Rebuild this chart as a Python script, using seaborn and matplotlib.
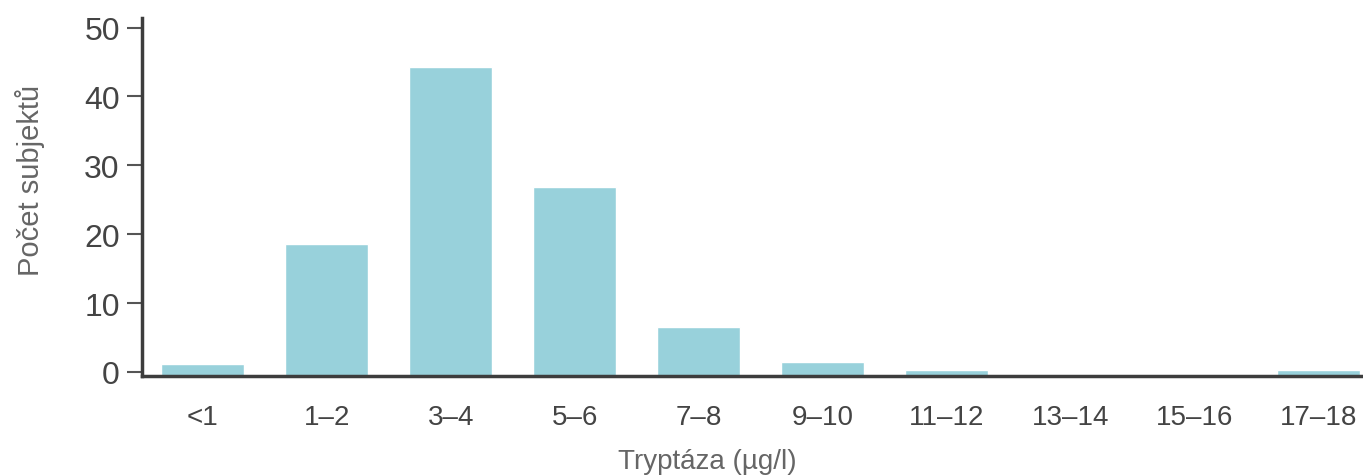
import matplotlib
matplotlib.use("Agg")
import matplotlib.pyplot as plt
import seaborn as sns
import pandas as pd

sns.set_theme(style="white")
plt.rcParams["font.family"] = ["Liberation Sans", "DejaVu Sans"]

# data
categories = ["<1", "1–2", "3–4", "5–6", "7–8", "9–10", "11–12", "13–14", "15–16", "17–18"]
counts = [1.2, 18.6, 44.3, 26.9, 6.5, 1.5, 0.3, 0.0, 0.0, 0.3]
y_ticks = [0, 10, 20, 30, 40, 50]

df = pd.DataFrame({"kat": categories, "pocet": counts})

y0 = -0.6  # baseline sits a bit below the zero tick
fig = plt.figure(figsize=(13.63, 4.77), dpi=100)
ax = fig.add_axes([142 / 1363, 100 / 477, 1 - 142 / 1363, 358 / 477])

sns.barplot(data=df, x="kat", y="pocet", color="#98d1db", saturation=1,
            width=0.67, ax=ax)
for p in ax.patches:
    h = p.get_height()
    if h <= 0:
        p.set_visible(False)
        continue
    p.set_y(y0)
    p.set_height(h - y0)

ax.set_xlim(-0.49, 9.36)
ax.set_ylim(y0, 51.4)
ax.set_yticks(y_ticks)

for s in ["top", "right"]:
    ax.spines[s].set_visible(False)
for s in ["left", "bottom"]:
    ax.spines[s].set_color("#3d3d3d")
    ax.spines[s].set_linewidth(2.5)

ax.tick_params(axis="y", left=True, length=11, width=1.5, color="#555555",
               labelsize=23, labelcolor="#444444", pad=5)
ax.tick_params(axis="x", bottom=False, labelsize=20, labelcolor="#444444", pad=14)

ax.set_xlabel("Tryptáza (µg/l)", fontsize=20, color="#666666")
ax.xaxis.set_label_coords((707 - 142) / 1221, -(462 - 377) / 358)
ax.set_ylabel("Počet subjektů", fontsize=21, color="#666666")
ax.yaxis.set_label_coords(-(142 - 30) / 1221, (377 - 180) / 358)
ax.xaxis.label.set_va("center")
ax.yaxis.label.set_va("center")

fig.savefig("out.png", dpi=100)
